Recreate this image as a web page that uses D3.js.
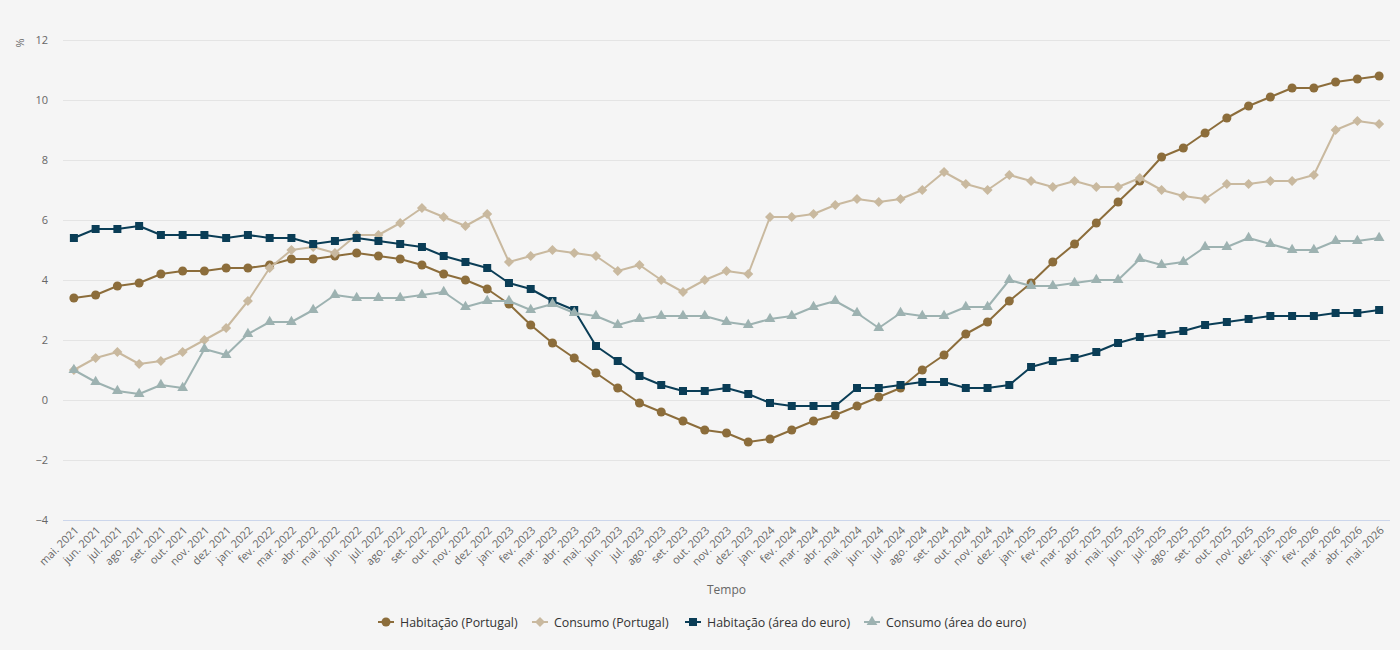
<!DOCTYPE html>
<html><head><meta charset="utf-8">
<script src="https://cdn.jsdelivr.net/npm/d3@7/dist/d3.min.js"></script>
<style>
html,body{margin:0;padding:0;background:#f5f5f5;}
svg{display:block;font-family:"Open Sans",sans-serif;}
</style></head><body>
<svg id="chart" width="1400" height="650"></svg>
<script>
const categories = ["mai. 2021","jun. 2021","jul. 2021","ago. 2021","set. 2021","out. 2021","nov. 2021","dez. 2021",
"jan. 2022","fev. 2022","mar. 2022","abr. 2022","mai. 2022","jun. 2022","jul. 2022","ago. 2022","set. 2022","out. 2022","nov. 2022","dez. 2022",
"jan. 2023","fev. 2023","mar. 2023","abr. 2023","mai. 2023","jun. 2023","jul. 2023","ago. 2023","set. 2023","out. 2023","nov. 2023","dez. 2023",
"jan. 2024","fev. 2024","mar. 2024","abr. 2024","mai. 2024","jun. 2024","jul. 2024","ago. 2024","set. 2024","out. 2024","nov. 2024","dez. 2024",
"jan. 2025","fev. 2025","mar. 2025","abr. 2025","mai. 2025","jun. 2025","jul. 2025","ago. 2025","set. 2025","out. 2025","nov. 2025","dez. 2025",
"jan. 2026","fev. 2026","mar. 2026","abr. 2026","mai. 2026"];

const habitacaoPT = [3.4,3.5,3.8,3.9,4.2,4.3,4.3,4.4,4.4,4.5,4.7,4.7,4.8,4.9,4.8,4.7,4.5,4.2,4.0,3.7,
3.2,2.5,1.9,1.4,0.9,0.4,-0.1,-0.4,-0.7,-1.0,-1.1,-1.4,-1.3,-1.0,-0.7,-0.5,-0.2,0.1,0.4,1.0,1.5,2.2,2.6,3.3,
3.9,4.6,5.2,5.9,6.6,7.3,8.1,8.4,8.9,9.4,9.8,10.1,10.4,10.4,10.6,10.7,10.8];

const consumoPT = [1.0,1.4,1.6,1.2,1.3,1.6,2.0,2.4,3.3,4.4,5.0,5.1,4.9,5.5,5.5,5.9,6.4,6.1,5.8,6.2,
4.6,4.8,5.0,4.9,4.8,4.3,4.5,4.0,3.6,4.0,4.3,4.2,6.1,6.1,6.2,6.5,6.7,6.6,6.7,7.0,7.6,7.2,7.0,7.5,
7.3,7.1,7.3,7.1,7.1,7.4,7.0,6.8,6.7,7.2,7.2,7.3,7.3,7.5,9.0,9.3,9.2];

const habitacaoEA = [5.4,5.7,5.7,5.8,5.5,5.5,5.5,5.4,5.5,5.4,5.4,5.2,5.3,5.4,5.3,5.2,5.1,4.8,4.6,4.4,
3.9,3.7,3.3,3.0,1.8,1.3,0.8,0.5,0.3,0.3,0.4,0.2,-0.1,-0.2,-0.2,-0.2,0.4,0.4,0.5,0.6,0.6,0.4,0.4,0.5,
1.1,1.3,1.4,1.6,1.9,2.1,2.2,2.3,2.5,2.6,2.7,2.8,2.8,2.8,2.9,2.9,3.0];

const consumoEA = [1.0,0.6,0.3,0.2,0.5,0.4,1.7,1.5,2.2,2.6,2.6,3.0,3.5,3.4,3.4,3.4,3.5,3.6,3.1,3.3,
3.3,3.0,3.2,2.9,2.8,2.5,2.7,2.8,2.8,2.8,2.6,2.5,2.7,2.8,3.1,3.3,2.9,2.4,2.9,2.8,2.8,3.1,3.1,4.0,
3.8,3.8,3.9,4.0,4.0,4.7,4.5,4.6,5.1,5.1,5.4,5.2,5.0,5.0,5.3,5.3,5.4];

const yTicks = [-4,-2,0,2,4,6,8,10,12];
const seriesNames = ["Habitação (Portugal)","Consumo (Portugal)","Habitação (área do euro)","Consumo (área do euro)"];

const series = [
  {name: seriesNames[0], values: habitacaoPT, color: "#8c6d3b", symbol: d3.symbolCircle, size: 64},
  {name: seriesNames[1], values: consumoPT, color: "#c9b99f", symbol: d3.symbolDiamond2, size: 64},
  {name: seriesNames[2], values: habitacaoEA, color: "#0a3d56", symbol: d3.symbolSquare, size: 64},
  {name: seriesNames[3], values: consumoEA, color: "#9db2b1", symbol: d3.symbolTriangle, size: 50}
];

const svg = d3.select("#chart");
const plotLeft = 63, plotRight = 1390, plotTop = 40, plotBottom = 520;

const x = d3.scalePoint().domain(categories).range([plotLeft, plotRight]).padding(0.5);
const y = d3.scaleLinear().domain([-4, 12]).range([plotBottom, plotTop]);

// gridlines
svg.append("g").selectAll("line").data(yTicks.filter(t => t !== -4)).join("line")
  .attr("x1", plotLeft).attr("x2", plotRight)
  .attr("y1", d => y(d) + 0.5).attr("y2", d => y(d) + 0.5)
  .attr("stroke", "#e4e4e4").attr("stroke-width", 1);

// bottom axis line
svg.append("line").attr("x1", plotLeft).attr("x2", plotRight)
  .attr("y1", plotBottom + 0.5).attr("y2", plotBottom + 0.5)
  .attr("stroke", "#ccd6eb").attr("stroke-width", 1);

// y axis labels
const fmt = d => d < 0 ? "\u2212" + Math.abs(d) : String(d);
const yAxis = d3.axisLeft(y).tickValues(yTicks).tickFormat(fmt).tickSize(0).tickPadding(0);
const gy = svg.append("g").attr("transform", `translate(${48},0)`).call(yAxis);
gy.select(".domain").remove();
gy.selectAll("text").attr("font-size", 11).attr("fill", "#666").attr("font-family", "Open Sans, sans-serif");

// % label
svg.append("text").attr("transform", "translate(24,43) rotate(-90)")
  .attr("text-anchor", "middle").attr("font-size", 11).attr("fill", "#666").text("%");

// x axis labels
const xAxis = d3.axisBottom(x).tickSize(0).tickPadding(0);
const gx = svg.append("g").attr("transform", `translate(0,${plotBottom})`).call(xAxis);
gx.select(".domain").remove();
gx.selectAll("text")
  .attr("font-size", 11).attr("fill", "#666").attr("font-family", "Open Sans, sans-serif")
  .attr("text-anchor", "end")
  .attr("dy", null).attr("y", 0)
  .attr("transform", "translate(5,11) rotate(-45)");

// x axis title
svg.append("text").attr("x", (plotLeft + plotRight) / 2).attr("y", 594)
  .attr("text-anchor", "middle").attr("font-size", 12).attr("fill", "#666").text("Tempo");

// lines and markers
const line = d3.line().x((d, i) => x(categories[i])).y(d => y(d));
series.forEach(s => {
  const g = svg.append("g");
  g.append("path").datum(s.values).attr("d", line)
    .attr("fill", "none").attr("stroke", s.color).attr("stroke-width", 2)
    .attr("stroke-linejoin", "round");
  g.selectAll("path.m").data(s.values).join("path").attr("class", "m")
    .attr("d", d3.symbol().type(s.symbol).size(s.size))
    .attr("transform", (d, i) => `translate(${x(categories[i])},${y(d)})`)
    .attr("fill", s.color);
});

// legend
const legendX = [378, 532, 685, 864];
const legend = svg.append("g");
series.forEach((s, i) => {
  const g = legend.append("g").attr("transform", `translate(${legendX[i]},622)`);
  g.append("line").attr("x1", 0).attr("x2", 16).attr("y1", 0).attr("y2", 0)
    .attr("stroke", s.color).attr("stroke-width", 2);
  g.append("path").attr("d", d3.symbol().type(s.symbol).size(s.size))
    .attr("transform", "translate(8,0)").attr("fill", s.color);
  g.append("text").attr("x", 22).attr("y", 4.5).attr("font-size", 12.4).attr("fill", "#333").text(s.name);
});
</script>
</body></html>
